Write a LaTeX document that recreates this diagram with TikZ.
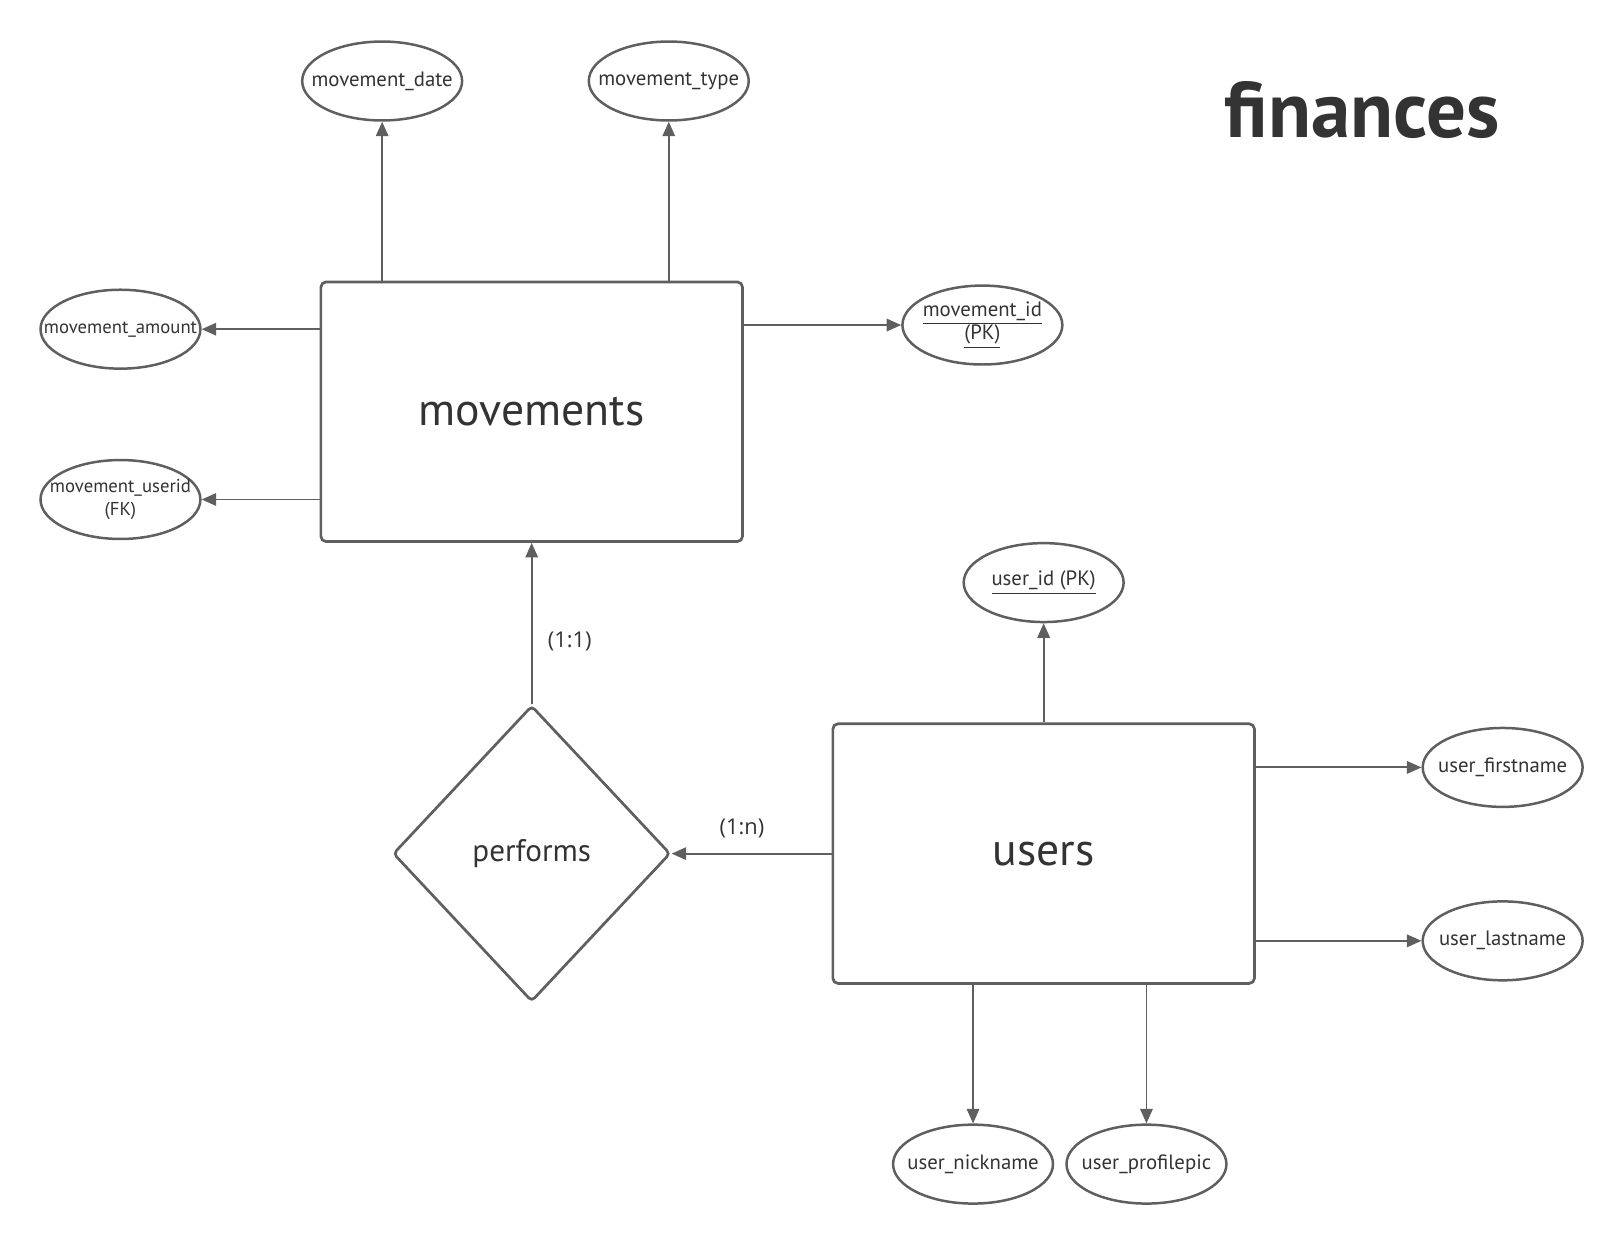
\documentclass[tikz,border=0pt]{standalone}
\usepackage{fontspec}
\setmainfont{PT Sans}
\newfontfamily\cardfont{Open Sans}
\usetikzlibrary{shapes.geometric,arrows.meta}
\definecolor{linegray}{HTML}{5F5F5F}
\definecolor{textgray}{HTML}{333333}
\newcommand{\attrline}[1]{\makebox[0pt]{#1}}
\tikzset{
  entity/.style={draw=linegray,line width=1.3pt,rounded corners=2.5pt,minimum width=203pt,minimum height=125pt,font=\fontsize{22}{26}\selectfont,text=textgray},
  attr/.style={ellipse,draw=linegray,line width=1.2pt,minimum width=77pt,minimum height=38pt,inner sep=0pt,align=center,font=\fontsize{10}{11.5}\selectfont,text=textgray},
  longattr/.style={attr,font=\fontsize{9}{11}\selectfont},
  relation/.style={diamond,draw=linegray,line width=1.3pt,rounded corners=2pt,minimum width=133.5pt,minimum height=142.5pt,inner sep=0pt,font=\fontsize{15}{18}\selectfont,text=textgray},
  link/.style={draw=linegray,line width=0.9pt,-{Triangle[length=7pt,width=6pt]}},
  card/.style={font=\cardfont\fontsize{10.5}{12}\selectfont,text=textgray}
}
\begin{document}
\begin{tikzpicture}[x=0.5pt,y=-0.5pt]
\useasboundingbox (0,0) rectangle (1560,1194);
\node[entity] (movements) at (512,396.5) {movements};
\node[entity] (users) at (1005,822) {users};
\node[relation] (performs) at (512,822) {performs};
\node[attr] (mdate) at (368,78) {\attrline{movement\_date}};
\node[attr] (mtype) at (644,78) {\attrline{movement\_type}};
\node[longattr] (mamount) at (116,317) {\attrline{movement\_amount}};
\node[longattr] (muserid) at (116,481) {\attrline{movement\_userid}\\(FK)};
\node[attr] (mid) at (946,313) {\attrline{\underline{movement\_id}}\\\underline{(PK)}};
\node[attr] (uid) at (1005,561) {\attrline{\underline{user\_id (PK)}}};
\node[attr] (ufirst) at (1447,739) {\attrline{user\_firstname}};
\node[attr] (ulast) at (1447,906) {\attrline{user\_lastname}};
\node[attr] (unick) at (937,1121) {\attrline{user\_nickname}};
\node[attr] (upic) at (1104,1121) {\attrline{user\_profilepic}};
\node[font=\bfseries\fontsize{38}{42}\selectfont,text=textgray] (title) at (1312,106) {finances};
\draw[link] (movements.north -| mdate) -- (mdate);
\draw[link] (movements.north -| mtype) -- (mtype);
\draw[link] (movements.west |- mamount) -- (mamount);
\draw[link] (movements.west |- muserid) -- (muserid);
\draw[link] (movements.east |- mid) -- (mid);
\draw[link] (performs) -- (movements) node[card,pos=0.39,right=4pt] {(1:1)};
\draw[link] (users) -- (performs) node[card,pos=0.56,above=4pt] {(1:n)};
\draw[link] (users) -- (uid);
\draw[link] (users.east |- ufirst) -- (ufirst);
\draw[link] (users.east |- ulast) -- (ulast);
\draw[link] (users.south -| unick) -- (unick);
\draw[link] (users.south -| upic) -- (upic);
\end{tikzpicture}
\end{document}
